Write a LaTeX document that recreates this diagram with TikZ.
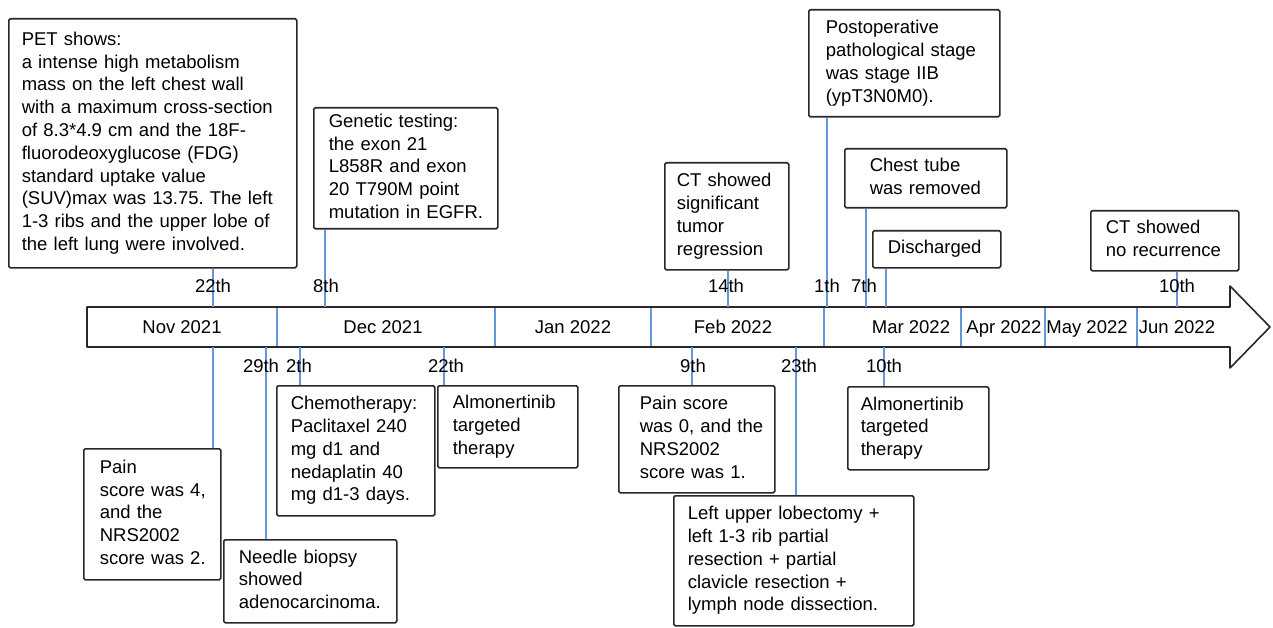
\documentclass[tikz,border=0pt]{standalone}
\usepackage{fontspec}
\setmainfont{Liberation Sans}
\frenchspacing
\definecolor{tl}{RGB}{100,152,218}
\definecolor{bd}{RGB}{40,40,40}
\newcommand\fs{\fontsize{18.5}{22.8}\selectfont}
\newcommand\lines[1]{\begin{tabular}{@{}l@{}}#1\end{tabular}}
\tikzset{
  box/.style={draw=bd, line width=1.6pt, rounded corners=1.5pt, fill=white,
    align=left, inner ysep=0pt, anchor=north west, font=\fs},
  tick/.style={draw=tl, line width=1.8pt},
  lab/.style={anchor=base, inner sep=0pt, font=\fs},
  sep/.style={draw=tl, line width=1.5pt},
}
\begin{document}
\begin{tikzpicture}[x=1pt,y=-1pt]
\useasboundingbox (0,0) rectangle (1273,628);

% timeline arrow
\draw[draw=bd, line width=1.6pt, line join=round, fill=white]
  (87,307) -- (1230,307) -- (1230,286) -- (1270,327) -- (1230,368) -- (1230,347) -- (87,347) -- cycle;

% month separators
\foreach \x in {277,495,651,824,961,1045,1137}
  \draw[sep] (\x,308) -- (\x,346);

% month labels
\foreach \x/\m in {182/Nov 2021,383/Dec 2021,573/Jan 2022,733/Feb 2022,911/Mar 2022,1004/Apr 2022,1087/May 2022,1177/Jun 2022}
  \node[lab] at (\x,333) {\m};

% timeline attachment coordinates
\coordinate (a22n) at (213,307);
\coordinate (a8d)  at (325,307);
\coordinate (a14f) at (728,307);
\coordinate (a1m)  at (827,307);
\coordinate (a7m)  at (866,307);
\coordinate (adis) at (886,307);
\coordinate (a10j) at (1177,307);
\coordinate (b22n) at (213,347);
\coordinate (b29n) at (266,347);
\coordinate (b2d)  at (300,347);
\coordinate (b22d) at (444,347);
\coordinate (b9f)  at (692,347);
\coordinate (b23f) at (796,347);
\coordinate (b10m) at (884,347);

% boxes above
\node[box, inner xsep=13pt, text width=262pt, minimum height=249pt] (pet) at (8,18) {\lines{PET shows:\\
a intense high metabolism\\
mass on the left chest wall\\
with a maximum cross-section\\
of 8.3*4.9 cm and the 18F-\\
fluorodeoxyglucose (FDG)\\
standard uptake value\\
(SUV)max was 13.75. The left\\
1-3 ribs and the upper lobe of\\
the left lung were involved.}};
\node[box, inner xsep=15pt, text width=154pt, minimum height=121pt] (gen) at (313,107) {\lines{Genetic testing:\\the exon 21\\L858R and exon\\20 T790M point\\mutation in EGFR.}};
\node[box, inner xsep=12pt, text width=100pt, minimum height=107pt] (ctsig) at (664,162) {\lines{CT showed\\significant\\tumor\\regression}};
\node[box, inner xsep=17pt, text width=157pt, minimum height=107pt] (post) at (808,9) {\lines{Postoperative\\pathological stage\\was stage IIB\\(ypT3N0M0).}};
\node[box, inner xsep=25pt, text width=112pt, minimum height=59pt] (chest) at (844,148) {\lines{Chest tube\\was removed}};
\node[box, inner xsep=15pt, text width=98pt, minimum height=37pt] (dis) at (872,230) {\lines{Discharged}};
\node[box, inner xsep=15pt, text width=118pt, minimum height=60pt] (ctno) at (1090,210) {\lines{CT showed\\no recurrence}};

% boxes below
\node[box, inner xsep=16pt, text width=105pt, minimum height=131pt] (pain4) at (83,448) {\lines{Pain\\score was 4,\\and the\\NRS2002\\score was 2.}};
\node[box, inner xsep=15pt, text width=143pt, minimum height=83pt] (needle) at (223,539) {\lines{Needle biopsy\\showed\\adenocarcinoma.}};
\node[box, inner xsep=14pt, text width=130pt, minimum height=130pt] (chemo) at (276,385) {\lines{Chemotherapy:\\Paclitaxel 240\\mg d1 and\\nedaplatin 40\\mg d1-3 days.}};
\node[box, inner xsep=15pt, text width=110pt, minimum height=82pt] (alm1) at (437,385) {\lines{Almonertinib\\targeted\\therapy}};
\node[box, inner xsep=21pt, text width=114pt, minimum height=107pt] (pain0) at (618,385) {\lines{Pain score\\was 0, and the\\NRS2002\\score was 1.}};
\node[box, inner xsep=14pt, text width=212pt, minimum height=130pt] (lob) at (673,495) {\lines{Left upper lobectomy +\\left 1-3 rib partial\\resection + partial\\clavicle resection +\\lymph node dissection.}};
\node[box, inner xsep=13pt, text width=115pt, minimum height=83pt] (alm2) at (847,386) {\lines{Almonertinib\\targeted\\therapy}};

% connectors above
\draw[tick] (pet.south -| a22n) -- (a22n);
\draw[tick] (gen.south -| a8d) -- (a8d);
\draw[tick] (ctsig.south -| a14f) -- (a14f);
\draw[tick] (post.south -| a1m) -- (a1m);
\draw[tick] (chest.south -| a7m) -- (a7m);
\draw[tick] (dis.south -| adis) -- (adis);
\draw[tick] (ctno.south -| a10j) -- (a10j);
% connectors below
\draw[tick] (b22n) -- (pain4.north -| b22n);
\draw[tick] (b29n) -- (needle.north -| b29n);
\draw[tick] (b2d) -- (chemo.north -| b2d);
\draw[tick] (b22d) -- (alm1.north -| b22d);
\draw[tick] (b9f) -- (pain0.north -| b9f);
\draw[tick] (b23f) -- (lob.north -| b23f);
\draw[tick] (b10m) -- (alm2.north -| b10m);

% date labels above
\node[lab] (l22n) at (213,292) {22th};
\node[lab] (l8d)  at (326,292) {8th};
\node[lab] (l14f) at (726,292) {14th};
\node[lab] (l1m)  at (827,292) {1th};
\node[lab] (l7m)  at (864,292) {7th};
\node[lab] (l10j) at (1177,292) {10th};
% date labels below
\node[lab] (l29n) at (261,372) {29th};
\node[lab] (l2d)  at (299,372) {2th};
\node[lab] (l22d) at (446,372) {22th};
\node[lab] (l9f)  at (693,372) {9th};
\node[lab] (l23f) at (799,372) {23th};
\node[lab] (l10m) at (884,372) {10th};
\end{tikzpicture}
\end{document}
